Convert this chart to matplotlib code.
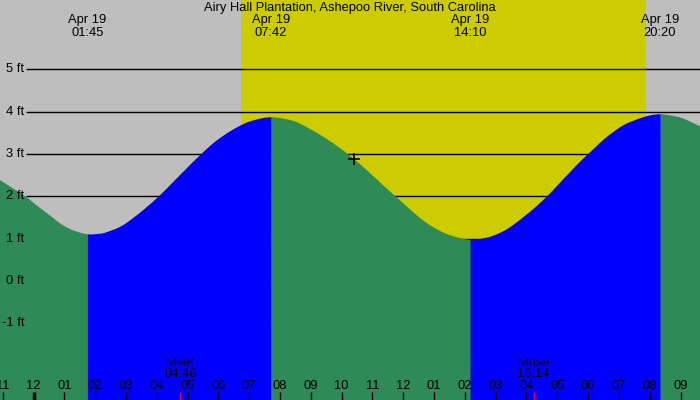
import numpy as np
import matplotlib
matplotlib.use("Agg")
import matplotlib.pyplot as plt

plt.rcParams['font.family'] = ['Liberation Sans', 'DejaVu Sans']

title = "Airy Hall Plantation, Ashepoo River, South Carolina"

# tide curve (hours after midnight Apr 19, height in ft)
tide_hours = [-1.09, -0.64, -0.26, 0.12, 0.55, 0.98, 1.42, 1.80, 2.18, 2.50, 2.82,
              3.31, 4.02, 4.72, 5.37, 5.91, 6.56, 7.04, 7.69, 8.34, 8.99, 9.64,
              10.29, 11.75, 12.83, 13.37, 13.80, 14.18, 14.67, 15.16,
              16.02, 16.65, 17.21, 17.75, 18.00, 18.67, 19.32, 20.30, 20.84, 21.65]
tide_ft = [2.39, 2.18, 2.00, 1.78, 1.54, 1.31, 1.17, 1.11, 1.13, 1.20, 1.30,
           1.55, 1.99, 2.50, 2.97, 3.32, 3.63, 3.79, 3.88, 3.81, 3.59, 3.30,
           2.95, 2.00, 1.34, 1.13, 1.03, 0.98, 1.03, 1.16,
           1.60, 2.01, 2.44, 2.85, 3.02, 3.46, 3.76, 3.95, 3.90, 3.66]

extreme_hours = [1.75, 7.70, 14.167, 20.333]
extreme_labels = ["Apr 19\n01:45", "Apr 19\n07:42", "Apr 19\n14:10", "Apr 19\n20:20"]
segment_colors = ["#2E8B57", "#0000FF", "#2E8B57", "#0000FF", "#2E8B57"]

sunrise, sunset = 6.75, 19.88
moon_events = [(4.767, "Mset\n04:46"), (16.233, "Mrise\n16:14")]
now_point = (10.39, 2.875)

level_lines = [-1, 0, 1, 2, 3, 4, 5]
hour_ticks = list(range(-1, 22))

FS = 9.3
px_per_hour = 30.81
x0_px = 33.5
xmin = -x0_px / px_per_hour
xmax = (700 - x0_px) / px_per_hour
px_per_ft = 42.3
y0_px = 280.9
ymax = y0_px / px_per_ft
ymin = (y0_px - 400) / px_per_ft


def smooth_curve(x, y, xn):
    """Monotone cubic (PCHIP) rendering of the read points."""
    x = np.asarray(x, float)
    y = np.asarray(y, float)
    h = np.diff(x)
    d = np.diff(y) / h
    n = len(x)
    m = np.zeros(n)
    for k in range(1, n - 1):
        if d[k - 1] * d[k] > 0:
            w1 = 2 * h[k] + h[k - 1]
            w2 = h[k] + 2 * h[k - 1]
            m[k] = (w1 + w2) / (w1 / d[k - 1] + w2 / d[k])
    m[0] = d[0]
    m[-1] = d[-1]
    idx = np.clip(np.searchsorted(x, xn) - 1, 0, n - 2)
    t = (xn - x[idx]) / h[idx]
    h00 = 2 * t**3 - 3 * t**2 + 1
    h10 = t**3 - 2 * t**2 + t
    h01 = -2 * t**3 + 3 * t**2
    h11 = t**3 - t**2
    return h00 * y[idx] + h10 * h[idx] * m[idx] + h01 * y[idx + 1] + h11 * h[idx] * m[idx + 1]


fig = plt.figure(figsize=(7, 4), dpi=100)
ax = fig.add_axes([0, 0, 1, 1])
ax.set_xlim(xmin, xmax)
ax.set_ylim(ymin, ymax)
ax.axis('off')
ax.add_patch(plt.Rectangle((0, 0), 1, 1, transform=ax.transAxes, color='#BEBEBE', zorder=0))
ax.axvspan(sunrise, sunset, color='#CCCC00', zorder=1, lw=0)

# level lines
for lv in level_lines:
    ax.plot([(26 - x0_px) / px_per_hour, xmax + 0.1], [lv, lv], color='black', lw=1, zorder=2,
            solid_capstyle='butt')
    ax.text(24 / 700, 1 - (y0_px - lv * px_per_ft) / 400, f"{lv} ft",
            transform=ax.transAxes, ha='right', va='center', fontsize=FS, zorder=5)

# water
bounds = [xmin - 0.1] + extreme_hours + [xmax + 0.1]
pad = 0.02
for i, col in enumerate(segment_colors):
    a, b = bounds[i], bounds[i + 1]
    xs = np.linspace(a, b + (pad if i < len(segment_colors) - 1 else 0), 300)
    ys = smooth_curve(tide_hours, tide_ft, xs)
    ax.fill_between(xs, ymin - 1, ys, color=col, lw=0, zorder=3 + 0.01 * i)

ax.plot([now_point[0]], [now_point[1]], marker='+', color='black', ms=8, mew=1.2, zorder=6)

# top labels
ax.text(0.5, 1 - 7.5 / 400, title, transform=ax.transAxes, ha='center', va='center', fontsize=FS, zorder=6)
xt = ax.get_xaxis_transform()
for h, lab in zip(extreme_hours, extreme_labels):
    ax.text(h, 1 - 26.5 / 400, lab, transform=xt, ha='center', va='center', fontsize=FS,
            linespacing=1.05, zorder=6)

# bottom hour ticks
for h in hour_ticks:
    lw = 2.5 if h == 0 else 1
    ax.plot([h, h], [0, 8 / 400], transform=xt, color='black', lw=lw, zorder=6, solid_capstyle='butt')
    lab = f"{(h % 12) or 12:02d}"
    ax.text(h, 1 - 386 / 400, lab, transform=xt, ha='center', va='center', fontsize=FS, zorder=6)

for h, lab in moon_events:
    ax.plot([h, h], [0, 8 / 400], transform=xt, color='red', lw=1, zorder=7, solid_capstyle='butt')
    ax.text(h, 1 - 368.5 / 400, lab, transform=xt, ha='center', va='center', fontsize=FS,
            linespacing=0.95, zorder=6)

fig.savefig("out.png", dpi=100)
